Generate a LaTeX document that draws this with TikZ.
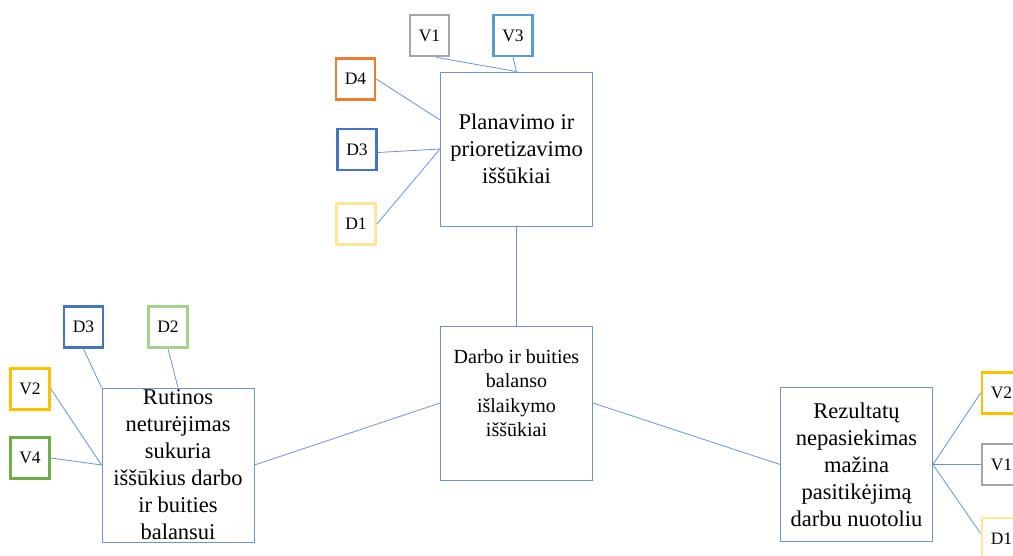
\documentclass[tikz,border=0pt]{standalone}
\usepackage{fontspec}
\setmainfont{Liberation Serif}
\definecolor{linkblue}{HTML}{6A93D8}
\definecolor{cOrange}{HTML}{ED7D31}
\definecolor{cBlue}{HTML}{4472C4}
\definecolor{cPale}{HTML}{FFE699}
\definecolor{cGray}{HTML}{A5A5A5}
\definecolor{cSky}{HTML}{5B9BD5}
\definecolor{cLime}{HTML}{A9D18E}
\definecolor{cGold}{HTML}{FFC000}
\definecolor{cGreen}{HTML}{70AD47}
\tikzset{
  bigbox/.style={draw=linkblue, line width=0.9pt, minimum width=152pt, minimum height=154pt,
    inner sep=0pt, align=center, font=\fontsize{22.5}{27}\selectfont},
  tag/.style={draw=#1, line width=2.8pt, fill=white, minimum width=39pt, minimum height=41pt,
    inner sep=0pt, font=\fontsize{17.5}{19}\selectfont},
  link/.style={draw=linkblue, line width=0.8pt}
}
\begin{document}
\begin{tikzpicture}[x=1pt,y=-1pt]
\useasboundingbox (0,0) rectangle (1013,556);
\clip (0,0) rectangle (1013,556);
\fill[white] (0,0) rectangle (1013,556);

% main challenge boxes
\node[bigbox] (plan) at (516.5,149) {Planavimo ir\\prioretizavimo\\iššūkiai};
\node[bigbox, label={[yshift=10pt, align=center, font=\fontsize{20}{24.5}\selectfont]center:Darbo ir buities\\balanso\\išlaikymo\\iššūkiai}] (bal) at (516.5,403) {};
\node[bigbox] (rut) at (178,465) {Rutinos\\neturėjimas\\sukuria\\iššūkius darbo\\ir buities\\balansui};
\node[bigbox] (res) at (856.5,464.5) {Rezultatų\\nepasiekimas\\mažina\\pasitikėjimą\\darbu nuotoliu};

% tags around the planning box
\node[tag=cGray] (v1a) at (429.5,35.5) {V1};
\node[tag=cSky] (v3a) at (513,35.5) {V3};
\node[tag=cOrange] (d4a) at (355.5,79) {D4};
\node[tag=cBlue] (d3a) at (357,149.5) {D3};
\node[tag=cPale] (d1a) at (356,224) {D1};

% tags around the routine box
\node[tag=cBlue] (d3b) at (83.5,327) {D3};
\node[tag=cLime] (d2b) at (168,327) {D2};
\node[tag=cGold] (v2b) at (30,389) {V2};
\node[tag=cGreen] (v4b) at (30,458) {V4};

% tags around the results box
\node[tag=cGold] (v2c) at (1001.5,393) {V2};
\node[tag=cGray] (v1c) at (1001.5,464.5) {V1};
\node[tag=cPale] (d1c) at (1001.5,538.5) {D1};

% connectors
\draw[link] ([xshift=7pt]v1a.south) -- (plan.north);
\draw[link] (v3a.south) -- (plan.north);
\draw[link] (d4a.east) -- ([yshift=29pt]plan.west);
\draw[link] ([yshift=-3pt]d3a.east) -- (plan.west);
\draw[link] (d1a.east) -- (plan.west);
\draw[link] (plan.south) -- (bal.north);

\draw[link] (d3b.south) -- (rut.north west);
\draw[link] (d2b.south) -- (rut.north);
\draw[link] (v2b.east) -- (rut.west);
\draw[link] (v4b.east) -- (rut.west);
\draw[link] (rut.east) -- (bal.west);

\draw[link] (bal.east) -- (res.west);
\draw[link] (res.east) -- (v2c.west);
\draw[link] (res.east) -- (v1c.west);
\draw[link] (res.east) -- ([yshift=5pt]d1c.west);
\end{tikzpicture}
\end{document}
